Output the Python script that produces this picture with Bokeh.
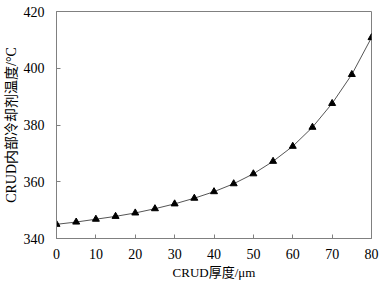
from bokeh.plotting import figure
from bokeh.embed import file_html
from bokeh.resources import INLINE
from bokeh.models import Range1d, FixedTicker

thickness = [0, 5, 10, 15, 20, 25, 30, 35, 40, 45, 50, 55, 60, 65, 70, 75, 80]
temperature = [345.0, 345.8, 346.8, 347.8, 349.0, 350.5, 352.2, 354.2, 356.5,
               359.3, 362.8, 367.2, 372.5, 379.2, 387.6, 397.8, 410.8]
x_ticks = [0, 10, 20, 30, 40, 50, 60, 70, 80]
y_ticks = [340, 360, 380, 400, 420]

SERIF = "'Liberation Serif', 'Noto Sans CJK SC', serif"

p = figure(width=379, height=282, output_backend="svg", toolbar_location=None,
           x_range=Range1d(0, 80), y_range=Range1d(340, 420),
           min_border_left=51, min_border_right=8, min_border_top=11, min_border_bottom=41)

p.line(thickness, temperature, line_color="#555555", line_width=1)
p.scatter(thickness, temperature, marker="triangle", size=7, fill_color="black", line_color="black")

p.xgrid.visible = False
p.ygrid.visible = False
p.outline_line_color = "#808080"
p.outline_line_width = 1

for ax in (p.xaxis[0], p.yaxis[0]):
    ax.axis_line_color = "#808080"
    ax.major_tick_line_color = "#808080"
    ax.major_tick_in = 4
    ax.major_tick_out = 0
    ax.minor_tick_line_color = None
    ax.major_label_text_font = SERIF
    ax.major_label_text_font_size = "14px"
    ax.major_label_text_color = "black"
    ax.axis_label_text_font = SERIF
    ax.axis_label_text_font_style = "normal"
    ax.axis_label_text_color = "black"

p.xaxis.ticker = FixedTicker(ticks=x_ticks)
p.yaxis.ticker = FixedTicker(ticks=y_ticks)
p.xaxis.axis_label = "CRUD厚度/μm"
p.yaxis.axis_label = "CRUD内部冷却剂温度/°C"
p.xaxis.axis_label_text_font_size = "13px"
p.yaxis.axis_label_text_font_size = "14px"
p.xaxis.major_label_standoff = 10
p.yaxis.major_label_standoff = 12
p.xaxis.axis_label_standoff = 3
p.yaxis.axis_label_standoff = 2

open("out.html", "w").write(file_html(p, INLINE))
